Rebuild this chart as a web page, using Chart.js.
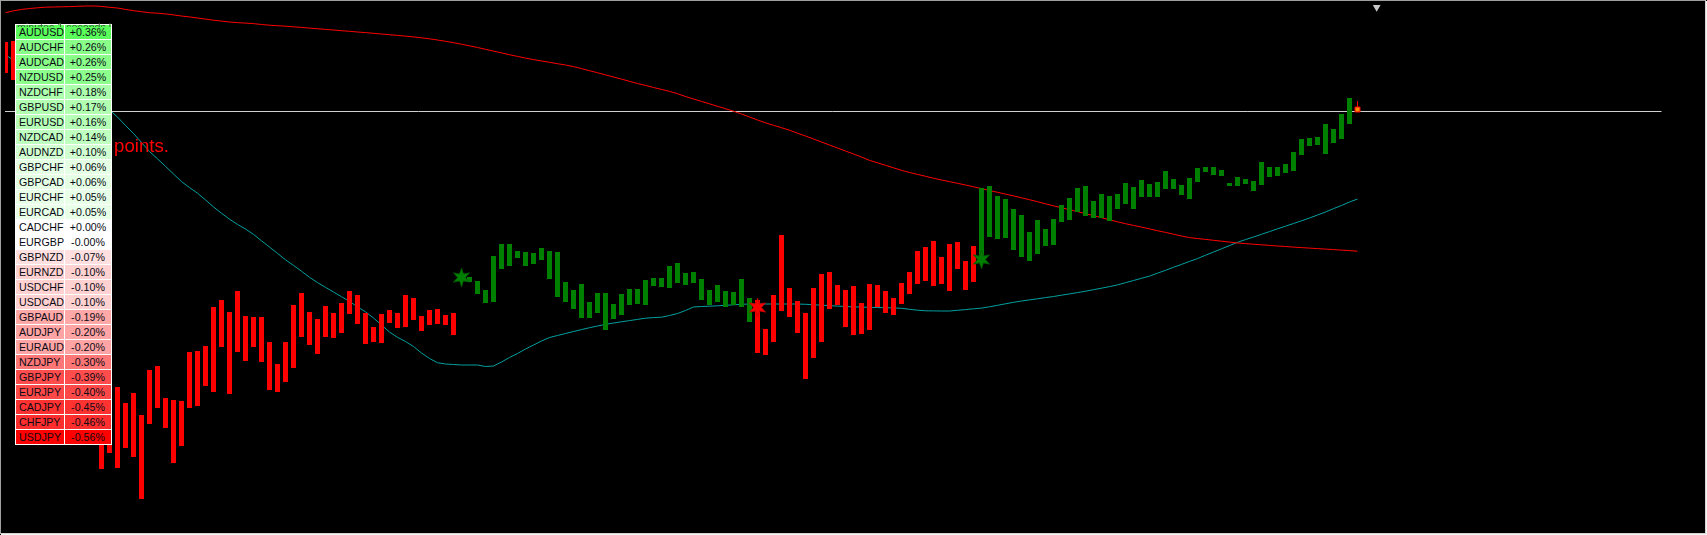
<!DOCTYPE html>
<html>
<head>
<meta charset="utf-8">
<script src="https://cdn.jsdelivr.net/npm/chart.js@4.4.1/dist/chart.umd.min.js"></script>
<style>
html,body{margin:0;padding:0;background:#f0f0f0;overflow:hidden;}
#wrap{position:relative;width:1707px;height:535px;}
#c{position:absolute;left:0;top:0;background:#000;}
#frame{position:absolute;left:0;top:0;width:1706px;height:534px;box-sizing:border-box;
  border-left:1px solid #a0a0a0;border-top:1px solid #a0a0a0;border-right:1px solid #d4d4d4;border-bottom:1px solid #d4d4d4;
  box-shadow:1px 1px 0 #f4f4f4;pointer-events:none;z-index:5;}
#tbl{position:absolute;left:15px;top:24px;width:97px;background:#fff;padding-bottom:1px;z-index:2;
  font-family:Arial,"Liberation Sans",sans-serif;font-size:10.67px;color:#0a0a14;}
.row{display:flex;margin-top:1px;height:14px;}
.cell{box-sizing:border-box;height:14px;padding-top:1px;line-height:13px;white-space:nowrap;overflow:hidden;}
.lab{margin-left:1px;width:48px;padding-left:3px;}
.val{margin-left:1px;width:46px;text-align:center;}
#hdr{position:absolute;left:17px;top:21px;width:95px;height:6px;overflow:hidden;z-index:3;
  font-family:Arial,"Liberation Sans",sans-serif;font-size:10.67px;line-height:12px;color:#2f5f2f;white-space:nowrap;}
#pts{position:absolute;left:114px;top:136px;z-index:3;font-family:Arial,"Liberation Sans",sans-serif;
  font-size:18.67px;line-height:20px;color:#ff0000;white-space:nowrap;}
</style>
</head>
<body>
<div id="wrap">
  <canvas id="c" width="1707" height="535"></canvas>
  <div id="tbl"></div>
  <div id="hdr">minutes 1 seconds left</div>
  <div id="pts">points.</div>
  <div id="frame"></div>
</div>
<script>
// ---------------- DATA ----------------
// Currency strength table
const pairNames = ['AUDUSD','AUDCHF','AUDCAD','NZDUSD','NZDCHF','GBPUSD','EURUSD','NZDCAD','AUDNZD','GBPCHF',
  'GBPCAD','EURCHF','EURCAD','CADCHF','EURGBP','GBPNZD','EURNZD','USDCHF','USDCAD','GBPAUD',
  'AUDJPY','EURAUD','NZDJPY','GBPJPY','EURJPY','CADJPY','CHFJPY','USDJPY'];
const pairChanges = [0.36,0.26,0.26,0.25,0.18,0.17,0.16,0.14,0.10,0.06,
  0.06,0.05,0.05,0.00,-0.00,-0.07,-0.10,-0.10,-0.10,-0.19,
  -0.20,-0.20,-0.30,-0.39,-0.40,-0.45,-0.46,-0.56];

// Histogram bars (price points), bar index 0..168
const barHigh = [493,494,475,445,415,385,345,305,275,235,
  205,185,135,140,148,132,142,120,165,169,
  137,135,134,183,184,189,228,235,223,244,
  219,218,218,193,171,193,230,242,223,216,
  229,222,232,244,240,222,208,221,225,222,
  240,237,219,225,226,220,222,262,258,254,
  245,279,291,291,284,283,282,287,284,283,
  253,245,251,233,242,242,231,241,246,246,
  255,257,257,269,272,262,263,256,245,250,
  244,243,256,237,235,206,240,300,247,234,
  222,247,261,263,250,245,249,232,251,250,
  244,237,252,263,284,288,294,278,291,293,
  274,289,347,349,339,336,326,320,303,315,
  306,316,330,337,347,349,334,341,339,341,
  352,348,355,351,353,364,356,350,357,367,
  368,368,365,352,358,356,354,373,368,368,
  371,383,396,397,398,411,406,421,437];
const barLow = [462,455,425,385,355,315,275,235,195,155,
  115,95,66,82,67,87,78,36,111,127,
  107,72,89,127,129,149,143,188,141,183,
  174,188,173,145,143,153,167,198,190,181,
  198,197,202,221,211,191,193,192,212,207,
  208,215,204,210,211,210,200,254,253,241,
  232,233,266,269,277,269,271,275,256,238,
  233,226,217,217,222,205,216,220,230,231,
  230,249,248,247,252,250,252,235,230,233,
  228,230,228,213,182,180,193,224,218,202,
  156,177,193,226,230,208,200,201,205,228,
  222,220,231,241,251,254,249,251,244,266,
  245,253,273,298,296,297,285,278,274,281,
  289,290,313,315,323,319,317,317,314,326,
  331,326,338,338,338,346,346,340,336,353,
  363,360,359,349,349,351,344,350,358,359,
  362,364,380,389,390,381,392,396,411];

// Trend signals (stars)
const signalIndex = [57, 94, 122];
const signalDir   = ['up', 'down', 'up'];
const signalLevel = [257.5, 227.5, 275.5];
const initialDir  = 'down';

// Current (forming) bar
const currentIndex = 169;
const currentHigh  = 434;
const currentClose = 425.5;

// Price line level and extent (bar index)
const priceLevel = 423.5;
const priceLineEnd = 207;

// Moving averages, bar index 0..169
const maRed = [522.3,524.2,525.5,526.5,527.2,527.8,528.0,528.2,528.4,528.7,
  529.0,529.0,528.6,527.7,527.0,525.6,524.3,523.3,522.3,521.8,
  521.1,520.1,519.0,518.1,517.0,515.9,514.8,513.9,513.0,512.4,
  511.9,511.4,510.5,509.8,509.3,508.8,508.2,507.6,506.9,506.3,
  505.6,505.0,504.3,503.7,503.0,502.4,501.7,501.0,500.3,499.6,
  498.9,498.1,497.2,496.2,495.0,493.7,492.3,490.8,489.2,487.5,
  485.7,483.9,482.1,480.3,478.6,476.9,475.4,474.0,472.7,471.3,
  470.0,468.4,466.4,464.3,462.3,460.1,458.0,455.9,453.7,451.5,
  449.6,447.5,445.6,443.6,441.3,438.5,436.0,433.6,431.2,428.7,
  426.3,423.8,421.0,418.0,415.0,412.2,409.7,407.3,404.8,401.8,
  399.0,396.0,393.0,390.0,387.0,384.0,381.0,378.0,374.6,372.2,
  369.7,367.2,364.7,362.5,360.6,358.7,356.8,355.0,353.4,351.7,
  350.0,348.2,346.4,344.5,342.7,340.9,339.1,337.2,335.3,333.3,
  331.2,329.2,327.2,325.3,323.4,321.4,319.4,317.3,315.2,313.2,
  311.3,309.6,307.9,306.1,304.3,302.6,300.8,299.0,297.4,296.5,
  295.6,294.7,293.8,292.9,292.0,291.4,290.8,290.2,289.6,289.0,
  288.5,287.9,287.4,286.9,286.4,285.9,285.4,284.9,284.4,283.8];
const maCyan = [480,475,471,467,463,459,455,451,447,443,
  438,434,430,425,418,409.5,401.5,392.5,383.5,376.2,
  368.6,361,353.4,347.4,341.8,335.1,328.1,321.7,315.8,310.6,
  306,300.6,294.2,288,281.6,275.2,269.6,263.8,257.7,252.4,
  247.7,243,238.3,233.5,228.2,223.2,217,210,203,197.7,
  193.5,188.5,182,176.5,172.3,171,170.5,170,170,170,
  168.5,169,173,177.5,181.5,186,190,194,197.5,199.5,
  201.5,203.5,205.4,207.3,209,210.6,212,213.2,214.4,215.6,
  216.8,217.4,217.8,219.5,221.5,224.5,228,228.5,228.8,229.2,
  229.7,230.2,230.7,231,231,231,231,231,231,231,
  230.7,230.3,229.8,229.4,228.9,228.5,228.2,227.9,227.7,227.5,
  227.3,227.1,226.7,225.7,224.8,224.2,224.1,224,224,224.7,
  225.4,226.2,226.9,228.2,229.7,231.2,232.7,234,235.1,236.2,
  237.4,238.5,239.8,241.1,242.4,243.8,245.3,246.8,248.4,250.1,
  252.3,254.5,256.7,258.9,261.8,264.7,267.7,270.6,273.6,276.4,
  279.8,283,286.2,289.4,292.7,295.4,298,300.7,303.4,306.2,
  308.8,311.5,314.2,317,320,323,326.4,329.5,333,336];

// Chart-shift marker position (index, level)
const shiftMarkIndex = 171.4;
const shiftMarkLevel = 527.8;

// ---------------- TABLE ----------------
const tbl = document.getElementById('tbl');
pairNames.forEach((name, k) => {
  const v = pairChanges[k];
  const c = Math.round(255 * (1 - Math.min(1, Math.abs(v) / 0.56)));
  const pos = v > 0 || Object.is(v, 0);
  const bg = pos ? `rgb(${c},255,${c})` : `rgb(255,${c},${c})`;
  const txt = (pos ? '+' : '-') + Math.abs(v).toFixed(2) + '%';
  const row = document.createElement('div');
  row.className = 'row';
  row.innerHTML = `<div class="cell lab" style="background:${bg}">${name}</div><div class="cell val" style="background:${bg}">${txt}</div>`;
  tbl.appendChild(row);
});

// ---------------- CHART ----------------
function dirAt(i) {
  let d = initialDir;
  signalIndex.forEach((s, k) => { if (i >= s) d = signalDir[k]; });
  return d;
}
const redBars = [], greenBars = [];
barHigh.forEach((h, i) => {
  const p = { x: i, y: [barLow[i], h] };
  (dirAt(i) === 'down' ? redBars : greenBars).push(p);
});
const idx = arr => arr.map((v, i) => ({ x: i, y: v }));

function makeStar(fill, edge) {
  const c = document.createElement('canvas');
  c.width = 19; c.height = 19;
  const g = c.getContext('2d');
  g.beginPath();
  for (let k = 0; k < 12; k++) {
    const a = -Math.PI / 2 + k * Math.PI / 6;
    const r = k % 2 === 0 ? 9.3 : 3.9;
    g.lineTo(9.5 + r * Math.cos(a), 9.5 + r * Math.sin(a));
  }
  g.closePath();
  g.fillStyle = fill; g.fill();
  g.strokeStyle = edge; g.lineWidth = 0.8; g.stroke();
  return c;
}
const starUp = makeStar('#008000', '#005800');
const starDown = makeStar('#ff0000', '#c00000');

new Chart(document.getElementById('c'), {
  type: 'bar',
  data: {
    datasets: [
      { type: 'line', order: 0, showLine: false,
        data: signalIndex.map((s, k) => ({ x: s, y: signalLevel[k] })),
        pointStyle: signalDir.map(d => d === 'up' ? starUp : starDown), pointRadius: 5 },
      { type: 'line', order: 1, showLine: false,
        data: [{ x: currentIndex, y: currentClose }],
        pointStyle: 'rect', pointRadius: 3.5, pointBackgroundColor: '#ff9000', pointBorderColor: '#ff0000', pointBorderWidth: 1 },
      { type: 'line', order: 1, showLine: false,
        data: [{ x: shiftMarkIndex, y: shiftMarkLevel }],
        pointStyle: 'triangle', rotation: 180, pointRadius: 4.5, pointBackgroundColor: '#c8c8c8', pointBorderColor: '#c8c8c8', pointBorderWidth: 0 },
      { order: 2, grouped: false, clip: 0, data: [{ x: currentIndex, y: [currentClose, currentHigh] }],
        backgroundColor: '#ff0000', maxBarThickness: 1, borderWidth: 0 },
      { order: 3, grouped: false, clip: 0, data: redBars, backgroundColor: '#ff0000', maxBarThickness: 5, borderWidth: 0 },
      { order: 3, grouped: false, clip: 0, data: greenBars, backgroundColor: '#008000', maxBarThickness: 5, borderWidth: 0 },
      { type: 'line', order: 4, data: idx(maRed), borderColor: '#ff0000', borderWidth: 1, pointRadius: 0, tension: 0 },
      { type: 'line', order: 4, data: idx(maCyan), borderColor: '#00a0a0', borderWidth: 1, pointRadius: 0, tension: 0 },
      { type: 'line', order: 5, data: [{ x: -1, y: priceLevel }, { x: priceLineEnd, y: priceLevel }],
        borderColor: '#d0d0d0', borderWidth: 1, pointRadius: 0 }
    ]
  },
  options: {
    responsive: false,
    animation: false,
    events: [],
    layout: { autoPadding: false, padding: { left: 5, right: 2, top: 2, bottom: 2 } },
    scales: {
      x: { type: 'linear', display: false, min: -0.0625, max: 212.4375, offset: false },
      y: { type: 'linear', display: false, min: 2, max: 533 }
    },
    plugins: { legend: { display: false }, tooltip: { enabled: false } }
  }
});
</script>
</body>
</html>
